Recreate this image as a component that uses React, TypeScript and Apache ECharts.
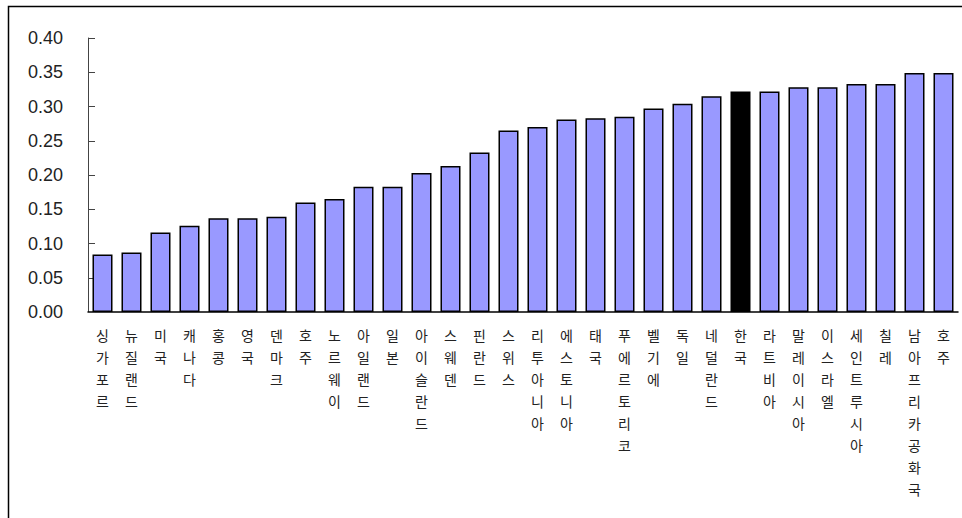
import React, { useEffect, useRef } from "react";
import * as echarts from "echarts";

// Countries, ordered from lowest to highest value
const countries: string[] = [
  "싱가포르", "뉴질랜드", "미국", "캐나다", "홍콩", "영국", "덴마크", "호주",
  "노르웨이", "아일랜드", "일본", "아이슬란드", "스웨덴", "핀란드", "스위스",
  "리투아니아", "에스토니아", "태국", "푸에르토리코", "벨기에", "독일", "네덜란드",
  "한국", "라트비아", "말레이시아", "이스라엘", "세인트루시아", "칠레",
  "남아프리카공화국", "호주",
];

const values: number[] = [
  0.084, 0.087, 0.116, 0.126, 0.137, 0.137, 0.139, 0.160,
  0.165, 0.183, 0.183, 0.203, 0.213, 0.233, 0.265,
  0.270, 0.281, 0.283, 0.285, 0.297, 0.304, 0.315,
  0.322, 0.322, 0.328, 0.328, 0.333, 0.333,
  0.349, 0.349,
];

const highlighted = "한국";

const yTicks: number[] = [0, 0.05, 0.1, 0.15, 0.2, 0.25, 0.3, 0.35, 0.4];

export default function App() {
  const ref = useRef<HTMLDivElement>(null);

  useEffect(() => {
    if (!ref.current) return;
    const chart = echarts.init(ref.current, null, { renderer: "svg" });
    chart.setOption({
      animation: false,
      backgroundColor: "#ffffff",
      graphic: [
        {
          type: "rect",
          shape: { x: 8.5, y: 6.5, width: 1000, height: 600 },
          style: { fill: "none", stroke: "#000000", lineWidth: 1.5 },
          silent: true,
        },
      ],
      grid: { left: 88, right: 4, top: 38, bottom: 206 },
      xAxis: {
        type: "category",
        data: countries,
        axisLine: { lineStyle: { color: "#000000", width: 1.5 } },
        axisTick: { inside: true, length: 4, lineStyle: { color: "#333333" } },
        axisLabel: {
          interval: 0,
          margin: 12,
          color: "#222222",
          fontSize: 14,
          lineHeight: 22,
          fontFamily: "Noto Sans CJK KR",
          formatter: (v: string) => v.split("").join("\n"),
        },
      },
      yAxis: {
        type: "value",
        min: yTicks[0],
        max: yTicks[yTicks.length - 1],
        interval: 0.05,
        splitLine: { show: false },
        axisLine: { show: true, lineStyle: { color: "#444444", width: 1 } },
        axisTick: { show: true, inside: true, length: 7, lineStyle: { color: "#444444" } },
        axisLabel: {
          margin: 25,
          color: "#222222",
          fontSize: 18,
          fontFamily: "Liberation Sans, Arial, sans-serif",
          formatter: (v: number) => v.toFixed(2),
        },
      },
      series: [
        {
          type: "bar",
          barCategoryGap: "31%",
          data: values.map((v, i) => ({
            value: v,
            itemStyle: {
              color: countries[i] === highlighted ? "#000000" : "#9999FF",
            },
          })),
          itemStyle: { borderColor: "#000000", borderWidth: 1.5 },
        },
      ],
    });
    return () => chart.dispose();
  }, []);

  return (
    <div
      ref={ref}
      style={{ position: "fixed", left: 0, top: 0, width: 962, height: 518 }}
    />
  );
}
